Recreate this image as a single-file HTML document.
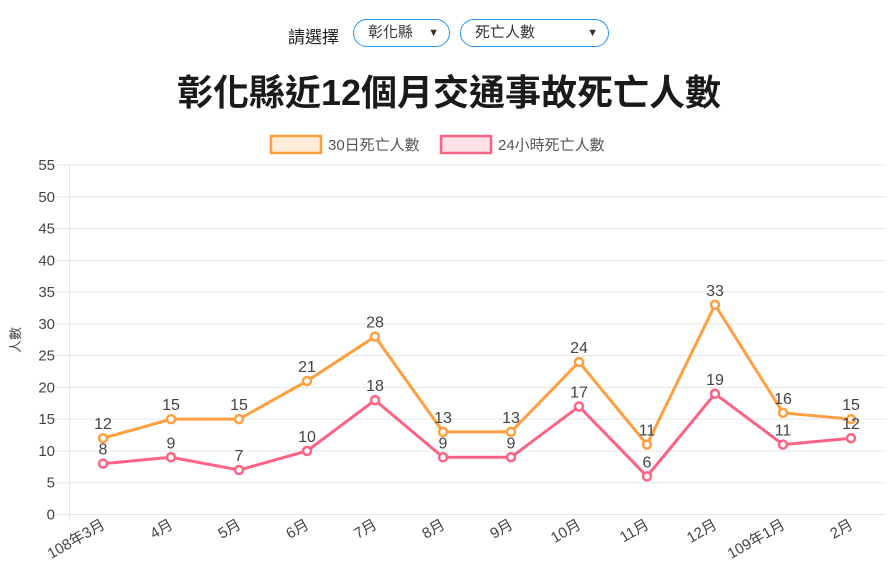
<!DOCTYPE html>
<html><head><meta charset="utf-8"><style>
body{margin:0;width:896px;height:575px;background:#fff;font-family:"Liberation Sans","Noto Sans CJK TC",sans-serif;position:relative;overflow:hidden}
.sel{position:absolute;top:19px;height:28px;border:1px solid #2196f3;border-radius:14px;box-sizing:border-box;font-size:15px;color:#333;line-height:26px;padding-left:14px}
.sel span{position:absolute;right:10px;top:0;font-size:11px}
</style></head><body>
<div style="position:absolute;left:288px;top:23px;font-size:17px;color:#222">請選擇</div>
<div class="sel" style="left:353px;width:97px">彰化縣<span>▼</span></div>
<div class="sel" style="left:460px;width:149px">死亡人數<span>▼</span></div>
<div style="position:absolute;left:0;width:898px;top:64px;text-align:center;font-size:36px;font-weight:bold;color:#1a1a1a">彰化縣近12個月交通事故死亡人數</div>
<svg id="c" width="896" height="575" style="position:absolute;left:0;top:0"></svg>
<script>
const categories=["108年3月","4月","5月","6月","7月","8月","9月","10月","11月","12月","109年1月","2月"];
const s30=[12,15,15,21,28,13,13,24,11,33,16,15];
const s24=[8,9,7,10,18,9,9,17,6,19,11,12];
const yTicks=[0,5,10,15,20,25,30,35,40,45,50,55];
const svg=document.getElementById('c');const NS='http://www.w3.org/2000/svg';
function mk(t,a,p){const e=document.createElementNS(NS,t);for(const k in a)e.setAttribute(k,a[k]);(p||svg).appendChild(e);return e;}
const y0=514.5,yTop=165,yMax=55;const Y=v=>y0-(v/yMax)*(y0-yTop);
const x0=103,step=68;const X=i=>x0+i*step;
yTicks.forEach(t=>{const l=mk('line',{x1:57,x2:886,y1:Y(t),y2:Y(t),stroke:'#e6e6e6'});
const tx=mk('text',{x:55,y:Y(t)+5,'text-anchor':'end','font-size':15,fill:'#444'});tx.textContent=t;});
mk('line',{x1:69.5,x2:69.5,y1:yTop,y2:y0+6,stroke:'#e6e6e6'});
categories.forEach((c,i)=>{const t=mk('text',{transform:`translate(${X(i)+3},${y0+13}) rotate(-30)`,'text-anchor':'end','font-size':15,fill:'#444'});t.textContent=c;});
const yt=mk('text',{transform:`translate(20,340) rotate(-90)`,'text-anchor':'middle','font-size':13,fill:'#444'});yt.textContent='人數';
function series(vals,col,name){const p=mk('polyline',{points:vals.map((v,i)=>X(i)+','+Y(v)).join(' '),fill:'none',stroke:col,'stroke-width':3});
vals.forEach((v,i)=>{const c=mk('circle',{cx:X(i),cy:Y(v),r:4,fill:'#fff',stroke:col,'stroke-width':2.5});
const t=mk('text',{x:X(i),y:Y(v)-9,'text-anchor':'middle','font-size':16,fill:'#444'});t.textContent=v;});}
series(s30,'#ff9f40','series-30day');series(s24,'#ff6384','series-24h');
[[270,'#ff9f40','rgba(255,159,64,0.2)','30日死亡人數','legend-30day'],[440,'#ff6384','rgba(255,99,132,0.2)','24小時死亡人數','legend-24h']].forEach(l=>{
const g=mk('g',{});
mk('rect',{x:l[0]+1,y:136,width:50,height:17,fill:l[2],stroke:l[1],'stroke-width':2.5},g);
const t=mk('text',{x:l[0]+58,y:150,'font-size':15,fill:'#555'},g);t.textContent=l[3];});
</script>
</body></html>
